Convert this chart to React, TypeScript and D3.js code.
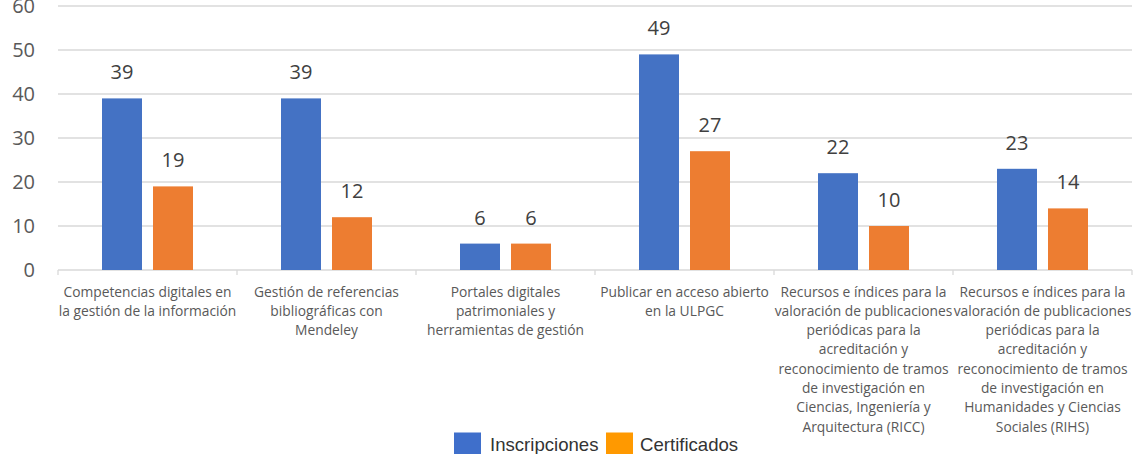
import React from "react";
import * as d3 from "d3";

const categories: string[][] = [
  ["Competencias digitales en", "la gestión de la información"],
  ["Gestión de referencias", "bibliográficas con", "Mendeley"],
  ["Portales digitales", "patrimoniales y", "herramientas de gestión"],
  ["Publicar en acceso abierto", "en la ULPGC"],
  ["Recursos e índices para la", "valoración de publicaciones", "periódicas para la", "acreditación y", "reconocimiento de tramos", "de investigación en", "Ciencias, Ingeniería y", "Arquitectura (RICC)"],
  ["Recursos e índices para la", "valoración de publicaciones", "periódicas para la", "acreditación y", "reconocimiento de tramos", "de investigación en", "Humanidades y Ciencias", "Sociales (RIHS)"],
];
const inscripciones = [39, 39, 6, 49, 22, 23];
const certificados = [19, 12, 6, 27, 10, 14];
const yTicks = [0, 10, 20, 30, 40, 50, 60];
const seriesNames = ["Inscripciones", "Certificados"];

const W = 1136, H = 454;
const left = 58, right = 1132, top = 6, bottom = 270;
const BLUE = "#4472C4", ORANGE = "#ED7D31";
const LEG_BLUE = "#3F6FCB", LEG_ORANGE = "#FF9900";

export default function App() {
  const idx = categories.map((_, i) => String(i));
  const x = d3.scaleBand().domain(idx).range([left, right]);
  const y = d3.scaleLinear().domain([0, 60]).range([bottom, top]);
  const inner = d3.scaleBand().domain(["0", "1"]).range([0, 91]).paddingInner(11 / 51);
  const groupOffset = (x.bandwidth() - 91) / 2;
  const font = "Open Sans, sans-serif";
  return (
    <svg width={W} height={H} style={{ position: "absolute", left: 0, top: 0, background: "#fff" }}>
      {yTicks.map((t) => (
        <g key={t}>
          {t > 0 && <line x1={left} x2={right} y1={y(t)} y2={y(t)} stroke="#d9d9d9" strokeWidth={1.3} />}
          <text x={35} y={y(t)} dy="0.36em" textAnchor="end" fontFamily={font} fontSize={20} fill="#595959">{t}</text>
        </g>
      ))}
      <line x1={left} x2={right} y1={bottom} y2={bottom} stroke="#d9d9d9" strokeWidth={1.3} />
      {d3.range(categories.length + 1).map((i) => {
        const xx = left + i * x.step();
        return <line key={i} x1={xx} x2={xx} y1={bottom} y2={bottom + 5} stroke="#d9d9d9" strokeWidth={1.3} />;
      })}
      {categories.map((_, i) => {
        const gx = (x(String(i)) as number) + groupOffset;
        const vals = [inscripciones[i], certificados[i]];
        return (
          <g key={i}>
            {vals.map((v, s) => {
              const bx = gx + (inner(String(s)) as number);
              const bw = inner.bandwidth();
              return (
                <g key={s}>
                  <rect x={bx} y={y(v)} width={bw} height={bottom - y(v)} fill={s === 0 ? BLUE : ORANGE} />
                  <text x={bx + bw / 2} y={y(v) - 19} textAnchor="middle" fontFamily={font} fontSize={20} fill="#404040">{v}</text>
                </g>
              );
            })}
          </g>
        );
      })}
      {categories.map((lines, i) => {
        const cx = (x(String(i)) as number) + x.bandwidth() / 2;
        return (
          <text key={i} textAnchor="middle" fontFamily={font} fontSize={13.8} fill="#595959">
            {lines.map((ln, k) => (
              <tspan key={k} x={cx} y={296.5 + k * 19.3}>{ln}</tspan>
            ))}
          </text>
        );
      })}
      <g>
        <rect x={454} y={432.5} width={27} height={25} fill={LEG_BLUE} />
        <text x={490} y={451} fontFamily="Liberation Sans, Arial, sans-serif" fontSize={18.6} fill="#333">{seriesNames[0]}</text>
        <rect x={606} y={432.5} width={27} height={25} fill={LEG_ORANGE} />
        <text x={640} y={451} fontFamily="Liberation Sans, Arial, sans-serif" fontSize={18.6} fill="#333">{seriesNames[1]}</text>
      </g>
    </svg>
  );
}
